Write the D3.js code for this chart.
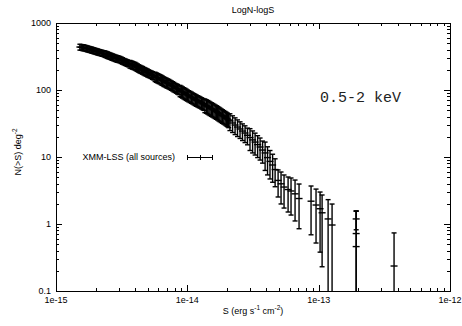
<!DOCTYPE html>
<html>
<head>
<meta charset="utf-8">
<script src="https://cdn.jsdelivr.net/npm/d3@7"></script>
<style>
  body { margin: 0; background: #fff; }
  text { font-family: "Liberation Sans", Arial, sans-serif; fill: #000; }
</style>
</head>
<body>
<div id="chart"></div>
<script>
// flux S, in units of 1e-15 erg s^-1 cm^-2
const fluxE15 = [
  1.52, 1.555, 1.59, 1.625, 1.66, 1.70, 1.74, 1.78, 1.82, 1.86, 1.90, 1.94, 1.98, 2.025, 2.07, 2.115, 2.16, 2.21, 2.26, 2.31,
  2.36, 2.415, 2.47, 2.525, 2.58, 2.635, 2.69, 2.755, 2.82, 2.88, 2.94, 3.005, 3.07, 3.14, 3.21, 3.285, 3.36, 3.43, 3.50, 3.58,
  3.66, 3.74, 3.82, 3.91, 4.00, 4.085, 4.17, 4.265, 4.36, 4.46, 4.56, 4.66, 4.76, 4.865, 4.97, 5.085, 5.20, 5.315, 5.43, 5.555,
  5.68, 5.805, 5.93, 6.065, 6.20, 6.335, 6.47, 6.62, 6.77, 6.92, 7.07, 7.225, 7.38, 7.545, 7.71, 7.885, 8.06, 8.24, 8.42, 8.61,
  8.80, 9.0, 9.19, 9.40, 9.61, 9.81, 10.0, 10.25, 10.5, 10.75, 11.0, 11.25, 11.5, 11.75, 12.0, 12.25, 12.5, 12.8, 13.1, 13.35,
  13.6, 13.95, 14.3, 14.6, 14.9, 15.25, 15.6, 15.95, 16.3, 16.65, 17.0, 17.35, 17.7, 18.1, 18.5, 18.95, 19.4, 19.8, 20.2, 20.65,
  21.1, 22.1, 23.1, 24.1, 25.2, 26.3, 27.5, 28.7,
  30.0, 31.4, 32.8, 34.3, 35.8, 37.4,
  39.1, 40.8, 42.6, 44.6, 46.6,
  49.1, 51.7, 54.5, 58.5, 61.6, 66.1, 70.9,
  87.5, 95.5, 102.5, 106.2, 118, 126.5, 193, 193, 193, 375
];
// cumulative counts N(>S), deg^-2
const nCum = [
  438, 434, 431, 428, 424, 418, 412, 407, 402, 397, 392, 387, 382, 377, 372, 367, 363, 358, 354, 350,
  345, 339, 333, 327, 322, 316, 311, 306, 300, 296, 292, 289, 285, 279, 273, 267, 262, 257, 253, 248,
  244, 240, 236, 232, 228, 222, 217, 211, 206, 202, 198, 193, 189, 185, 181, 177, 173, 170, 166, 162,
  159, 155, 152, 149, 146, 142, 139, 135, 132, 129, 126.5, 124, 121, 118, 115, 112, 109, 106.5, 104, 101,
  98.3, 95.8, 93.4, 91, 88.7, 86.5, 84.3, 82.1, 80.0, 78, 76.0, 74, 72.1, 70.5, 69.0, 67.6, 66.2, 64.5, 62.9, 61.3,
  59.7, 58.2, 56.7, 55.3, 53.9, 52.5, 51.2, 49.9, 48.6, 47.4, 46.2, 45.0, 43.8, 42.5, 41.3, 40.1, 38.9, 37.8, 36.8, 35.6,
  34.5, 32.2, 30.0, 28.0, 26.2, 24.4, 22.8, 21.1,
  19.5, 18.0, 16.7, 15.3, 14.1, 12.7,
  11.5, 9.8, 8.6, 7.6, 6.5,
  4.47, 3.98, 3.56, 3.27, 3.11, 2.82, 2.40,
  2.19, 1.92, 1.69, 1.47, 1.19, 0.966, 1.19, 0.72, 0.46, 0.236
];
// 1-sigma error on N(>S)
const nErr = [
  44, 43, 43, 43, 42, 42, 41, 41, 40, 40, 39, 39, 38, 38, 37, 37, 36, 36, 35, 35,
  38, 37, 37, 36, 35, 35, 34, 34, 33, 33, 32, 32, 31, 31, 30, 29, 29, 28, 28, 27,
  32, 31, 31, 30, 30, 29, 28, 27, 27, 26, 26, 25, 25, 24, 24, 23, 22, 22, 22, 21,
  25, 25, 24, 24, 23, 23, 22, 22, 21, 21, 20, 20, 19, 19, 18, 18, 17, 17, 17, 16,
  18.7, 18.2, 17.7, 17.3, 16.9, 16.4, 16.0, 15.6, 15.2, 14.8, 14.4, 14.1, 13.7, 13.4, 13.1, 12.8, 12.6, 12.3, 12.0, 11.6,
  13.7, 13.4, 13.0, 12.7, 12.4, 12.1, 11.8, 11.5, 11.2, 10.9, 10.6, 10.4, 10.1, 9.8, 9.5, 9.2, 8.9, 8.7, 8.5, 8.2,
  9.7, 9.0, 8.4, 7.8, 7.3, 6.8, 6.4, 5.9,
  7.0, 6.5, 6.0, 5.5, 5.1, 4.6,
  5.2, 4.4, 3.9, 3.4, 2.9,
  1.94, 1.99, 1.83, 1.76, 1.75, 1.71, 1.55,
  1.50, 1.40, 1.31, 1.24, 1.12, 1.02, 0.37, 0.84, 1.10, 0.50
];

const xTicks = [1e-15, 1e-14, 1e-13, 1e-12];
const xTickLabels = ["1e-15", "1e-14", "1e-13", "1e-12"];
const yTicks = [0.1, 1, 10, 100, 1000];
const yTickLabels = ["0.1", "1", "10", "100", "1000"];

const points = fluxE15.map((s, i) => ({ s: s * 1e-15, n: nCum[i], e: nErr[i] }));

var margin = {top: 23, right: 12, bottom: 35, left: 56},
    width = 462 - margin.left - margin.right,
    height = 326 - margin.top - margin.bottom;

var x = d3.scaleLog().domain([1e-15, 1e-12]).range([0, width]);
var y = d3.scaleLog().domain([0.1, 1000]).range([height, 0]);

var svg = d3.select("#chart").append("svg")
    .attr("width", 462)
    .attr("height", 326);

// title
svg.append("text")
    .attr("x", margin.left + width / 2).attr("y", 13)
    .attr("text-anchor", "middle").attr("font-size", 9)
    .text("LogN-logS");

var g = svg.append("g")
    .attr("transform", "translate(" + margin.left + "," + margin.top + ")");

// ticks, all drawn inward on the four sides
var major = 6, minor = 3;
var ticks = g.append("g").attr("stroke", "#000").attr("stroke-width", 1);
x.ticks().forEach(function(t) {
  var len = xTicks.some(function(m) { return Math.abs(m / t - 1) < 1e-6; }) ? major : minor;
  var px = Math.round(x(t)) + 0.5;
  ticks.append("line").attr("x1", px).attr("x2", px).attr("y1", height).attr("y2", height - len);
  ticks.append("line").attr("x1", px).attr("x2", px).attr("y1", 0).attr("y2", len);
});
y.ticks().forEach(function(t) {
  var len = yTicks.some(function(m) { return Math.abs(m / t - 1) < 1e-6; }) ? major : minor;
  var py = Math.round(y(t)) + 0.5;
  ticks.append("line").attr("y1", py).attr("y2", py).attr("x1", 0).attr("x2", len);
  ticks.append("line").attr("y1", py).attr("y2", py).attr("x1", width).attr("x2", width - len);
});

// tick labels
g.selectAll(".xl").data(xTicks).enter().append("text")
    .attr("x", function(d) { return x(d); })
    .attr("y", height + 12)
    .attr("text-anchor", "middle").attr("font-size", 9)
    .text(function(d, i) { return xTickLabels[i]; });
g.selectAll(".yl").data(yTicks).enter().append("text")
    .attr("x", -5)
    .attr("y", function(d) { return y(d) + 3; })
    .attr("text-anchor", "end").attr("font-size", 9)
    .text(function(d, i) { return yTickLabels[i]; });

// axis titles
var xt = svg.append("text")
    .attr("x", margin.left + width / 2).attr("y", 314)
    .attr("text-anchor", "middle").attr("font-size", 9);
xt.append("tspan").text("S (erg s");
xt.append("tspan").attr("dy", -4).attr("font-size", 6.5).text("-1");
xt.append("tspan").attr("dy", 4).text(" cm");
xt.append("tspan").attr("dy", -4).attr("font-size", 6.5).text("-2");
xt.append("tspan").attr("dy", 4).text(")");

var yt = svg.append("text")
    .attr("transform", "translate(21," + (margin.top + height / 2 - 5) + ") rotate(-90)")
    .attr("text-anchor", "middle").attr("font-size", 9);
yt.append("tspan").text("N(>S) deg");
yt.append("tspan").attr("dy", -4).attr("font-size", 6.5).text("-2");

// error bars
var cap = 2.5, mk = 3.5;
var bars = g.append("g").attr("stroke", "#000").attr("stroke-width", 1.4).attr("fill", "none");
points.forEach(function(d) {
  var px = x(d.s);
  var hi = d.n + d.e, lo = d.n - d.e;
  var yHi = y(hi);
  var yLo = lo > 0.1 ? y(lo) : height;
  bars.append("line").attr("x1", px).attr("x2", px).attr("y1", yHi).attr("y2", yLo);
  bars.append("line").attr("x1", px - cap).attr("x2", px + cap).attr("y1", yHi).attr("y2", yHi);
  if (lo > 0.1) {
    bars.append("line").attr("x1", px - cap).attr("x2", px + cap).attr("y1", yLo).attr("y2", yLo);
  }
  var py = y(d.n);
  bars.append("line").attr("x1", px - mk).attr("x2", px + mk).attr("y1", py).attr("y2", py);
});

// frame
g.append("rect").attr("x", 0.5).attr("y", 0.5).attr("width", width).attr("height", height)
    .attr("fill", "none").attr("stroke", "#000").attr("stroke-width", 1);

// key
var ky = 134;
g.append("text").attr("x", 119).attr("y", ky + 3)
    .attr("text-anchor", "end").attr("font-size", 9)
    .text("XMM-LSS (all sources)");
var key = g.append("g").attr("stroke", "#000").attr("stroke-width", 1);
key.append("line").attr("x1", 131).attr("x2", 157).attr("y1", ky + 0.5).attr("y2", ky + 0.5);
key.append("line").attr("x1", 131.5).attr("x2", 131.5).attr("y1", ky - 2).attr("y2", ky + 3);
key.append("line").attr("x1", 156.5).attr("x2", 156.5).attr("y1", ky - 2).attr("y2", ky + 3);
key.append("line").attr("x1", 144.5).attr("x2", 144.5).attr("y1", ky - 2).attr("y2", ky + 3);

// energy band label
g.append("text").attr("x", 264).attr("y", 79)
    .style("font-family", "'Liberation Mono', 'DejaVu Sans Mono', monospace")
    .attr("font-size", 15).style("fill", "#222")
    .text("0.5-2 keV");
</script>
</body>
</html>
